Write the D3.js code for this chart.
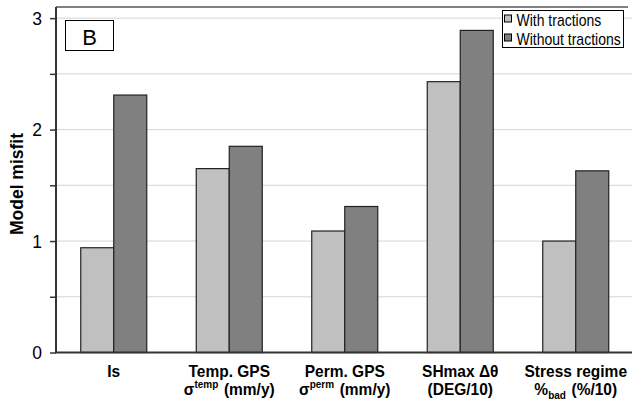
<!DOCTYPE html>
<html>
<head>
<meta charset="utf-8">
<script src="https://cdn.jsdelivr.net/npm/d3@7"></script>
<style>
body { margin: 0; background: #fff; }
svg text { font-family: Arial, "Liberation Sans", sans-serif; }
</style>
</head>
<body>
<div id="chart"></div>
<script>
var categories = ["Is", "Temp", "Perm", "SHmax", "Stress"];
var withTractions = [0.94, 1.65, 1.09, 2.43, 1.00];
var withoutTractions = [2.31, 1.85, 1.31, 2.89, 1.63];
var seriesNames = ["With tractions", "Without tractions"];
var yTicks = [0, 1, 2, 3];

var margin = {top: 7, right: 0, bottom: 52.5, left: 56},
    width = 632 - margin.left - margin.right,
    height = 405 - margin.top - margin.bottom;

var svg = d3.select("#chart")
  .append("svg")
    .attr("width", 632)
    .attr("height", 405)
  .append("g")
    .attr("transform", "translate(" + margin.left + "," + margin.top + ")");

var x = d3.scaleBand()
  .domain(categories)
  .range([0, 577.5]);

var y = d3.scaleLinear()
  .domain([0, 3.1])
  .range([height, 0]);

var colors = ["#c0c0c0", "#808080"];
var barW = 33;

// grid lines every 0.5
var gridVals = d3.range(0.5, 3.01, 0.5);
svg.selectAll(".grid")
  .data(gridVals)
  .enter().append("line")
    .attr("x1", 0).attr("x2", width)
    .attr("y1", function(d) { return y(d); })
    .attr("y2", function(d) { return y(d); })
    .attr("stroke", "#d4d4d4")
    .attr("stroke-width", 1);

// top border
svg.append("line")
  .attr("x1", 0).attr("x2", width - 4)
  .attr("y1", 0).attr("y2", 0)
  .attr("stroke", "#808080")
  .attr("stroke-width", 2);

// bars
var data = categories.map(function(c, i) {
  return {cat: c, vals: [withTractions[i], withoutTractions[i]]};
});
var groups = svg.selectAll(".grp")
  .data(data)
  .enter().append("g");
groups.selectAll("rect")
  .data(function(d) {
    return d.vals.map(function(v, j) { return {cat: d.cat, v: v, j: j}; });
  })
  .enter().append("rect")
    .attr("x", function(d) { return x(d.cat) + x.bandwidth() / 2 - barW + d.j * barW; })
    .attr("y", function(d) { return y(d.v); })
    .attr("width", barW)
    .attr("height", function(d) { return y(0) - y(d.v); })
    .attr("fill", function(d) { return colors[d.j]; })
    .attr("stroke", "#222")
    .attr("stroke-width", 1.2);

// y axis
var yAxis = svg.append("g")
  .call(d3.axisLeft(y).tickValues(d3.range(0, 3.01, 0.5)).tickSize(6)
    .tickFormat(function(d) { return yTicks.indexOf(d) >= 0 ? d : ""; }));
yAxis.attr("font-family", null);
yAxis.select(".domain").attr("stroke", "#333").attr("stroke-width", 2)
  .attr("d", "M0," + y(0) + "V0");
yAxis.selectAll(".tick line").attr("stroke", "#333").attr("stroke-width", 1.5);
yAxis.selectAll(".tick text")
  .attr("x", -14)
  .attr("dy", "0.36em")
  .style("font-size", "17.5px")
  .attr("fill", "#000");

// x axis line
svg.append("line")
  .attr("x1", -1).attr("x2", width)
  .attr("y1", y(0)).attr("y2", y(0))
  .attr("stroke", "#333")
  .attr("stroke-width", 2);

// y title
svg.append("text")
  .attr("transform", "translate(" + (23 - margin.left) + "," + 177 + ") rotate(-90)")
  .attr("text-anchor", "middle")
  .style("font-size", "17.5px")
  .style("font-weight", "bold")
  .text("Model misfit");

// x labels
var labelLines = [
  [["Is"]],
  [["Temp. GPS"], ["σ", ["temp", "sup"], " (mm/y)"]],
  [["Perm. GPS"], ["σ", ["perm", "sup"], " (mm/y)"]],
  [["SHmax Δθ"], ["(DEG/10)"]],
  [["Stress regime"], ["%", ["bad", "sub"], " (%/10)"]]
];
labelLines.forEach(function(lines, i) {
  var cx = x(categories[i]) + x.bandwidth() / 2;
  lines.forEach(function(parts, k) {
    var t = svg.append("text")
      .attr("transform", "translate(" + cx + "," + (y(0) + 24 + k * 18) + ") scale(1,1.08)")
      .attr("text-anchor", "middle")
      .style("font-size", "15.5px")
      .style("font-weight", "bold");
    parts.forEach(function(p) {
      if (typeof p === "string") {
        t.append("tspan").text(p);
      } else {
        t.append("tspan").text(p[0]).style("font-size", "10px")
          .attr("dy", p[1] === "sup" ? -6 : 4);
        t.append("tspan").attr("dy", p[1] === "sup" ? 6 : -4).text("\u200a");
      }
    });
  });
});

// panel label B
svg.append("rect")
  .attr("x", 65.5 - margin.left).attr("y", 20.5 - margin.top)
  .attr("width", 48).attr("height", 30)
  .attr("fill", "#fff").attr("stroke", "#000").attr("stroke-width", 1);
svg.append("text")
  .attr("x", 89.5 - margin.left).attr("y", 45 - margin.top)
  .attr("text-anchor", "middle")
  .style("font-size", "22px")
  .text("B");

// legend
var lg = svg.append("g").attr("transform", "translate(" + (502.5 - margin.left) + "," + (10.5 - margin.top) + ")");
lg.append("rect")
  .attr("width", 121).attr("height", 37)
  .attr("fill", "#fff").attr("stroke", "#000").attr("stroke-width", 1);
seriesNames.forEach(function(n, i) {
  lg.append("rect")
    .attr("x", 2).attr("y", 4.5 + i * 19)
    .attr("width", 7).attr("height", 7)
    .attr("fill", colors[i]).attr("stroke", "#000").attr("stroke-width", 1);
  lg.append("text")
    .attr("transform", "translate(14," + (15.5 + i * 19) + ") scale(1,1.2)")
    .style("font-size", "14px")
    .text(n);
});
</script>
</body>
</html>
